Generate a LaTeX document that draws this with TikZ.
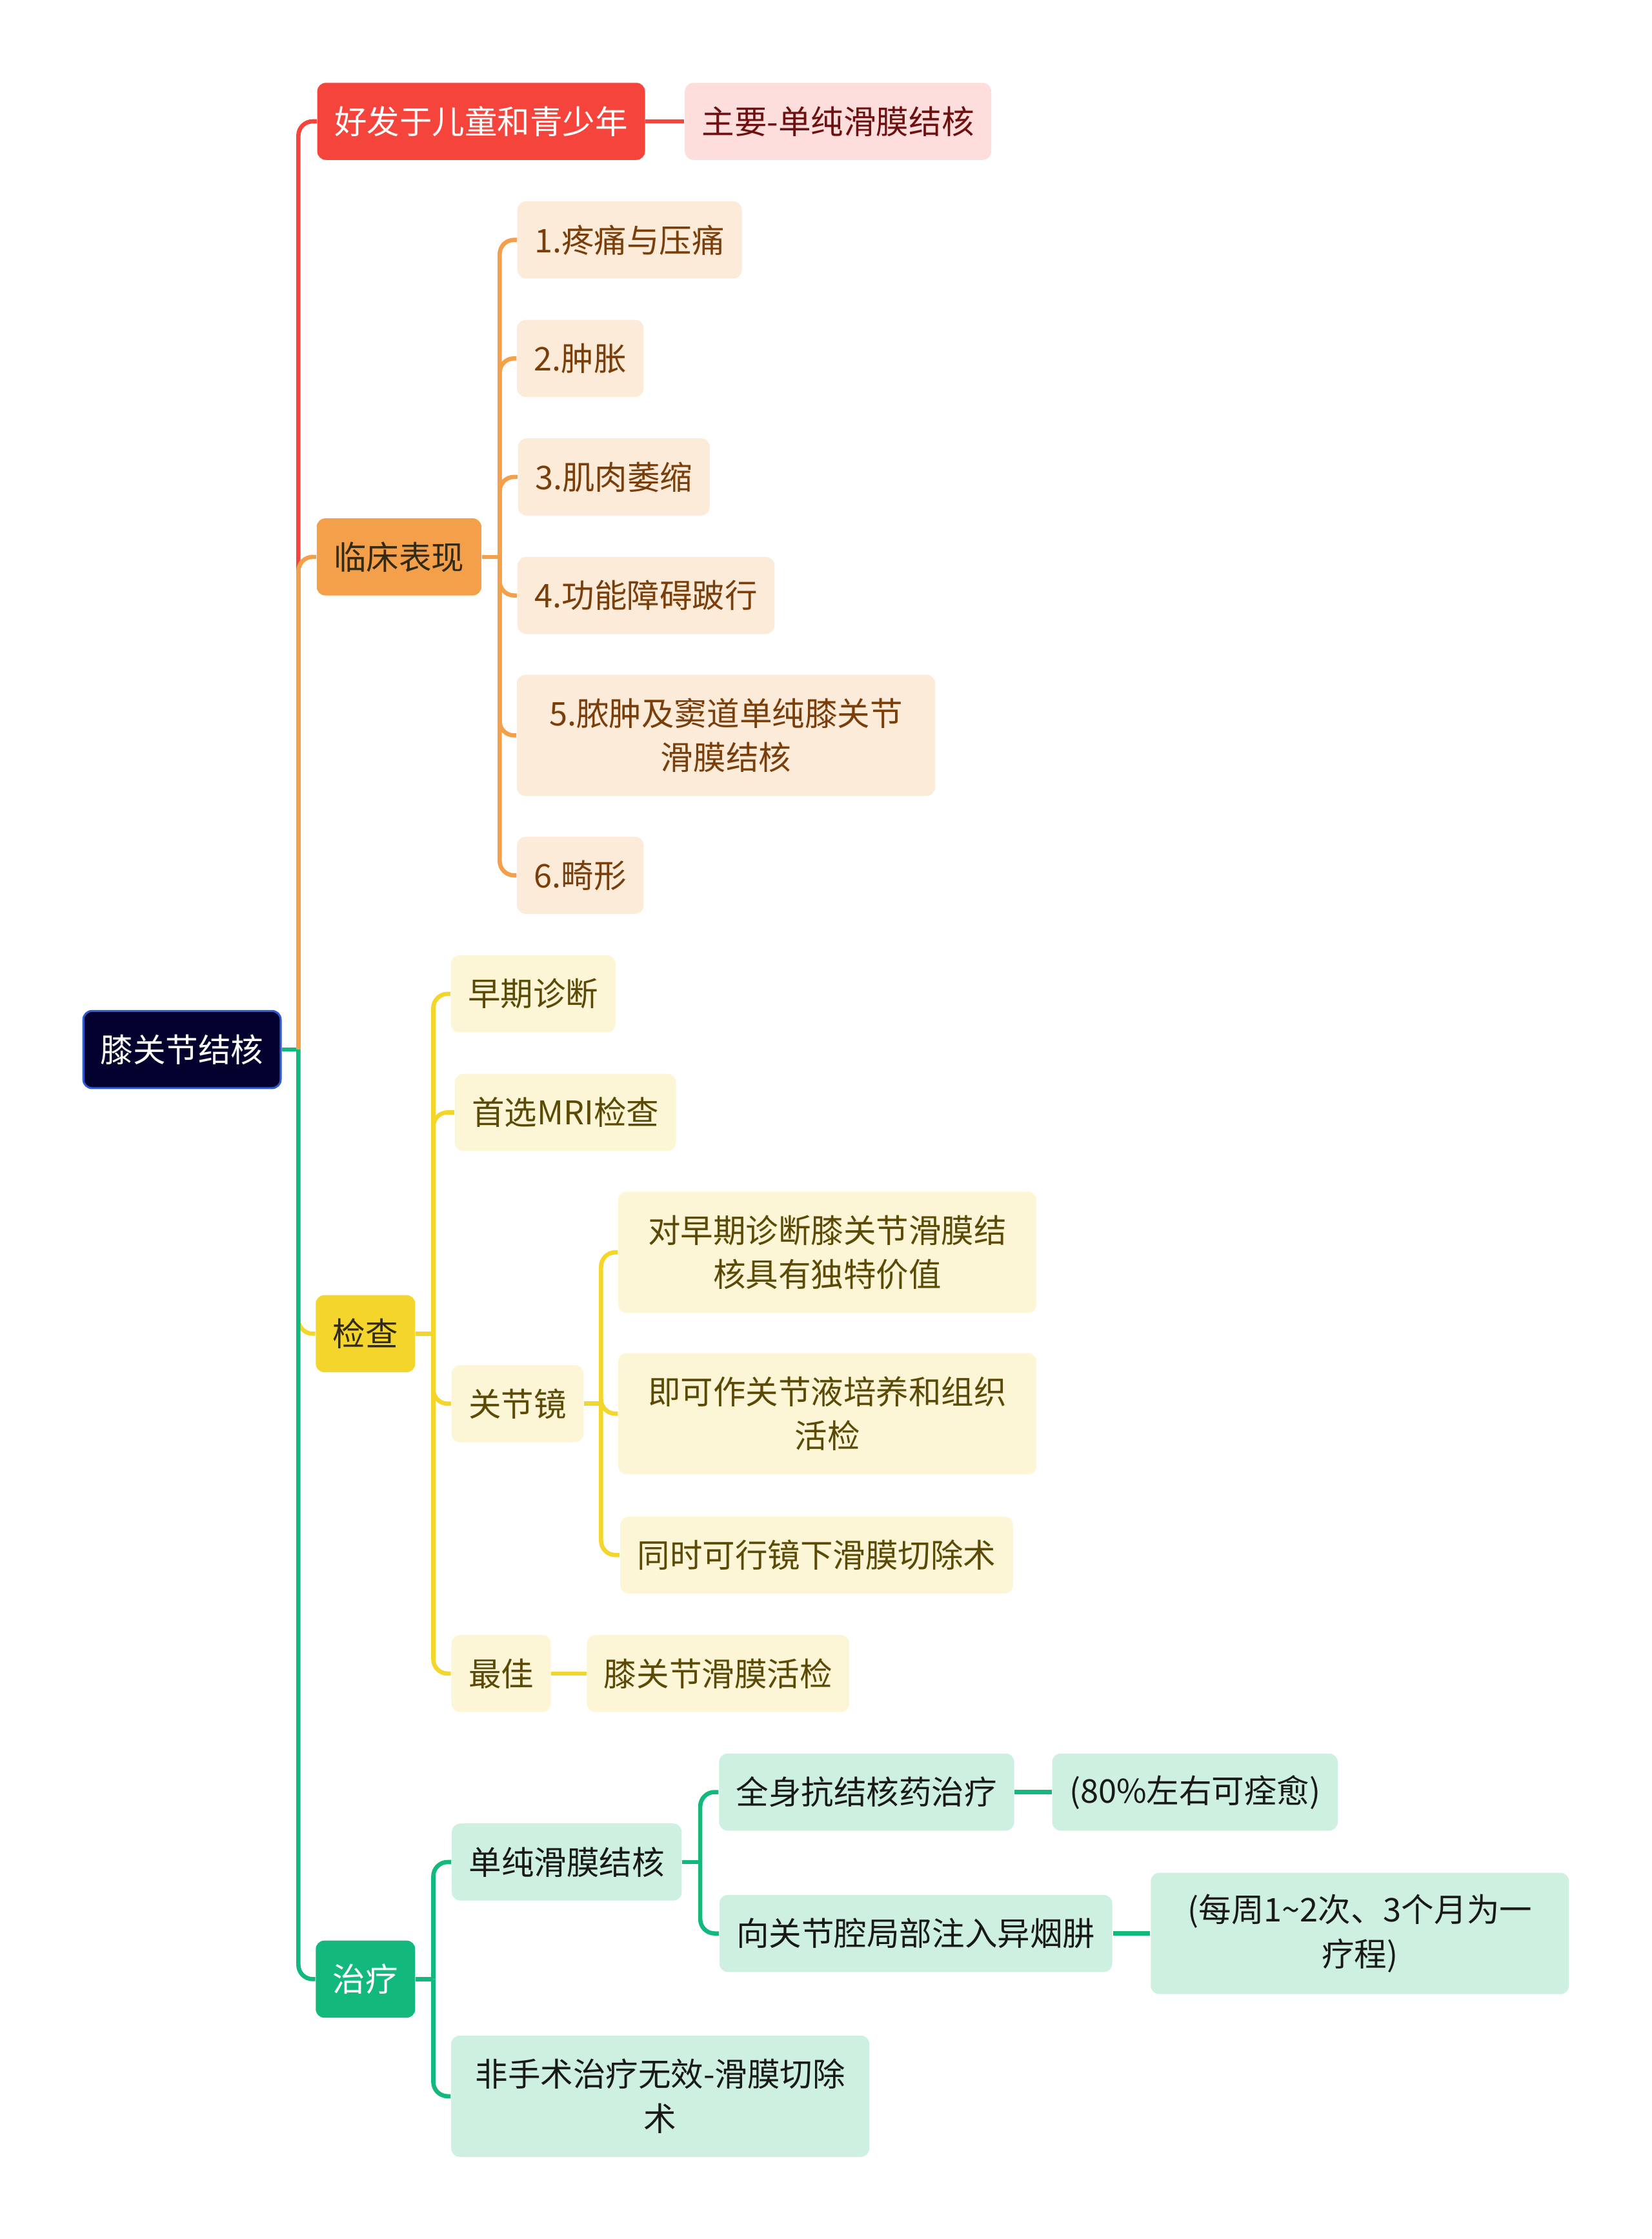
\documentclass[tikz,border=0pt]{standalone}
\usepackage{fontspec}
\setmainfont{Noto Sans CJK SC}
\usepackage{tikz}
\usepackage{xcolor}

\definecolor{rootfill}{HTML}{03022E}
\definecolor{rootedge}{HTML}{2F5BD0}
\definecolor{redc}{HTML}{F5443C}
\definecolor{redsoft}{HTML}{FDDEDC}
\definecolor{redtext}{HTML}{6E1010}
\definecolor{orangec}{HTML}{F4A04B}
\definecolor{orangesoft}{HTML}{FDEBDA}
\definecolor{orangetext}{HTML}{7A3E0A}
\definecolor{yellowc}{HTML}{F3D52B}
\definecolor{yellowsoft}{HTML}{FDF6D6}
\definecolor{yellowtext}{HTML}{5B4A06}
\definecolor{greenc}{HTML}{13B97C}
\definecolor{greensoft}{HTML}{CDF0E1}
\definecolor{darktext}{HTML}{332A14}

\begin{document}
\begin{tikzpicture}[x=0.02cm, y=-0.02cm]
    % Box and link styles
    \tikzset{
        box/.style={rounded corners=0.12cm, inner xsep=0.24cm, inner ysep=0pt,
            minimum height=1.08cm, align=center, font=\fontsize{13}{17.6}\selectfont},
        wide/.style={text width=5.38cm, minimum height=1.7cm},
        rootbox/.style={box, fill=rootfill, draw=rootedge, line width=0.8pt, text=white},
        redmain/.style={box, fill=redc, text=white},
        redsub/.style={box, fill=redsoft, text=redtext},
        orangemain/.style={box, fill=orangec, text=darktext},
        orangesub/.style={box, fill=orangesoft, text=orangetext},
        yellowmain/.style={box, fill=yellowc, text=darktext},
        yellowsub/.style={box, fill=yellowsoft, text=yellowtext},
        greenmain/.style={box, fill=greenc, text=white},
        greensub/.style={box, fill=greensoft, text=black!90},
        link/.style={line width=1.7pt, rounded corners=0.2cm}
    }

    \useasboundingbox (0,0) rectangle (1157,1568);

    % ==========================================
    % ROOT AND MAIN BRANCHES
    % ==========================================
    \node[rootbox] (knee) at (127.5,735) {膝关节结核};
    \node[redmain] (young) at (337,85) {好发于儿童和青少年};
    \node[orangemain] (clinic) at (279.5,390) {临床表现};
    \node[yellowmain] (exam) at (256,934) {检查};
    \node[greenmain] (treat) at (256,1386) {治疗};

    \coordinate (trunk) at (209,735);
    \draw[link, greenc] (knee.east) -- (trunk);
    \draw[link, redc] (trunk) |- (young.west);
    \draw[link, orangec] (trunk) |- (clinic.west);
    \draw[link, yellowc] (trunk) |- (exam.west);
    \draw[link, greenc] (trunk) |- (treat.west);

    % ==========================================
    % RED BRANCH
    % ==========================================
    \node[redsub] (mainly) at (587,85) {主要-单纯滑膜结核};
    \draw[link, redc] (young.east) -- (mainly.west);

    % ==========================================
    % ORANGE BRANCH
    % ==========================================
    \node[orangesub] (pain) at (441,168) {1.疼痛与压痛};
    \node[orangesub] (swell) at (406.5,251) {2.肿胀};
    \node[orangesub] (atrophy) at (430,334) {3.肌肉萎缩};
    \node[orangesub] (limp) at (452.5,417) {4.功能障碍跛行};
    \node[orangesub, wide] (abscess) at (508.5,515) {5.脓肿及窦道单纯膝关节\\滑膜结核};
    \node[orangesub] (deform) at (406.5,613) {6.畸形};

    \coordinate (clinicj) at (350,390);
    \draw[link, orangec] (clinic.east) -- (clinicj);
    \foreach \c in {pain, swell, atrophy, limp, abscess, deform}
        \draw[link, orangec] (clinicj) |- (\c.west);

    % ==========================================
    % YELLOW BRANCH
    % ==========================================
    \node[yellowsub] (early) at (373.5,696) {早期诊断};
    \node[yellowsub] (mri) at (396,779) {首选MRI检查};
    \node[yellowsub] (scope) at (362.5,983) {关节镜};
    \node[yellowsub] (best) at (351,1172) {最佳};

    \coordinate (examj) at (303.5,934);
    \draw[link, yellowc] (exam.east) -- (examj);
    \foreach \c in {early, mri, scope, best}
        \draw[link, yellowc] (examj) |- (\c.west);

    \node[yellowsub, wide] (unique) at (579.5,877) {对早期诊断膝关节滑膜结\\核具有独特价值};
    \node[yellowsub, wide] (culture) at (579.5,990) {即可作关节液培养和组织\\活检};
    \node[yellowsub] (resect) at (572,1089) {同时可行镜下滑膜切除术};

    \coordinate (scopej) at (421,983);
    \draw[link, yellowc] (scope.east) -- (scopej);
    \foreach \c in {unique, culture, resect}
        \draw[link, yellowc] (scopej) |- (\c.west);

    \node[yellowsub] (biopsy) at (503,1172) {膝关节滑膜活检};
    \draw[link, yellowc] (best.east) -- (biopsy.west);

    % ==========================================
    % GREEN BRANCH
    % ==========================================
    \node[greensub] (simple) at (397,1304) {单纯滑膜结核};
    \node[greensub, wide] (surgery) at (462.5,1468) {非手术治疗无效-滑膜切除\\术};

    \coordinate (treatj) at (303.5,1386);
    \draw[link, greenc] (treat.east) -- (treatj);
    \foreach \c in {simple, surgery}
        \draw[link, greenc] (treatj) |- (\c.west);

    \node[greensub] (drug) at (607,1255) {全身抗结核药治疗};
    \node[greensub] (inject) at (641.5,1354) {向关节腔局部注入异烟肼};

    \coordinate (simplej) at (490.5,1304);
    \draw[link, greenc] (simple.east) -- (simplej);
    \foreach \c in {drug, inject}
        \draw[link, greenc] (simplej) |- (\c.west);

    \node[greensub] (cure) at (837,1255) {(80\%左右可痊愈)};
    \node[greensub, wide] (course) at (952.5,1354) {(每周1\textasciitilde 2次、3个月为一\\疗程)};
    \draw[link, greenc] (drug.east) -- (cure.west);
    \draw[link, greenc] (inject.east) -- (course.west);
\end{tikzpicture}
\end{document}
